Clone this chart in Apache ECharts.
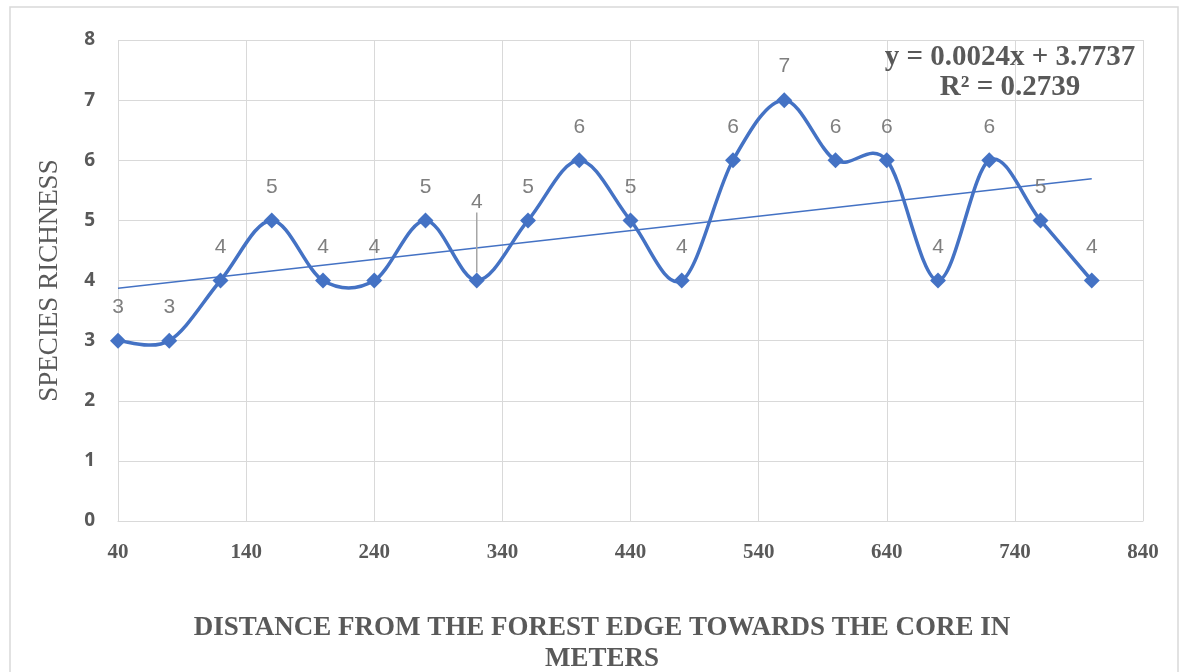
<!DOCTYPE html>
<html>
<head>
<meta charset="utf-8">
<script src="https://cdn.jsdelivr.net/npm/echarts@6/dist/echarts.min.js"></script>
<style>
  html, body { margin: 0; padding: 0; background: #ffffff; }
  #chart { width: 1180px; height: 672px; }
</style>
</head>
<body>
<div id="chart"></div>
<script>
// Sampling distances (m) along the transect and species richness observed at each
const distances = [40, 80, 120, 160, 200, 240, 280, 320, 360, 400, 440, 480, 520, 560, 600, 640, 680, 720, 760, 800];
const richness  = [3, 3, 4, 5, 4, 4, 5, 4, 5, 6, 5, 4, 6, 7, 6, 6, 4, 6, 5, 4];

// Linear trend as reported on the chart
const trendSlope = 0.0024;
const trendIntercept = 3.7737;
const trendR2 = 0.2739;

// Axis ranges / tick steps
const xRange = [40, 840];
const xStep = 100;
const yRange = [0, 8];
const yStep = 1;

// Axis titles
const xTitle = 'DISTANCE FROM THE FOREST EDGE TOWARDS THE CORE IN\nMETERS';
const yTitle = 'SPECIES RICHNESS';

// Index of the label that sits higher with a leader line
const raisedLabelIndex = 7;

const blue = '#4472C4';
const textGray = '#595959';
const gridGray = '#d9d9d9';

const points = distances.map((d, i) => {
  const item = { value: [d, richness[i]] };
  if (i === raisedLabelIndex) {
    item.labelLine = { show: true, lineStyle: { color: '#a6a6a6', width: 1.5 } };
  }
  return item;
});

// One item per curve segment (point i -> point i+1)
const segments = distances.slice(0, -1).map((d, i) => [d, richness[i], i]);

const x0 = distances[0], x1 = distances[distances.length - 1];
const trendPoints = [
  [x0, trendSlope * x0 + trendIntercept],
  [x1, trendSlope * x1 + trendIntercept]
];

// Catmull-Rom style smoothing of one segment, using pixel positions from the grid
function renderSegment(params, api) {
  const i = params.dataIndex;
  const n = distances.length;
  const at = j => {
    const k = Math.max(0, Math.min(n - 1, j));
    return api.coord([distances[k], richness[k]]);
  };
  const p0 = at(i - 1), p1 = at(i), p2 = at(i + 1), p3 = at(i + 2);
  const t = 1 / 6;
  return {
    type: 'bezierCurve',
    shape: {
      x1: p1[0], y1: p1[1],
      x2: p2[0], y2: p2[1],
      cpx1: p1[0] + (p2[0] - p0[0]) * t,
      cpy1: p1[1] + (p2[1] - p0[1]) * t,
      cpx2: p2[0] - (p3[0] - p1[0]) * t,
      cpy2: p2[1] - (p3[1] - p1[1]) * t
    },
    style: { stroke: blue, lineWidth: 3.5, fill: 'none', lineCap: 'round' },
    silent: true
  };
}

const serif = '"Liberation Serif", "DejaVu Serif", serif';

const chart = echarts.init(document.getElementById('chart'), null, { renderer: 'canvas' });

chart.setOption({
  animation: false,
  backgroundColor: '#ffffff',
  grid: { left: 118, top: 40, width: 1025, height: 481, containLabel: false, outerBoundsMode: 'none' },
  xAxis: {
    type: 'value',
    min: xRange[0], max: xRange[1], interval: xStep,
    axisLine: { show: true, lineStyle: { color: gridGray, width: 1 } },
    axisTick: { show: false },
    axisLabel: { margin: 21, fontFamily: serif, fontWeight: 'bold', fontSize: 21, color: textGray },
    splitLine: { show: true, lineStyle: { color: gridGray, width: 1 } }
  },
  yAxis: {
    type: 'value',
    min: yRange[0], max: yRange[1], interval: yStep,
    name: yTitle,
    nameLocation: 'middle',
    nameRotate: 90,
    nameGap: 55,
    nameTextStyle: { fontFamily: serif, fontSize: 27, color: textGray },
    axisLine: { show: false },
    axisTick: { show: false },
    axisLabel: {
      margin: 23,
      fontFamily: '"Open Sans", "Noto Sans", sans-serif',
      fontWeight: 'bold', fontSize: 19, color: textGray
    },
    splitLine: { show: true, lineStyle: { color: gridGray, width: 1 } }
  },
  series: [
    {
      name: 'Linear trend',
      type: 'line',
      data: trendPoints,
      symbol: 'none',
      lineStyle: { color: blue, width: 1.5 },
      silent: true,
      z: 2
    },
    {
      name: 'Species richness curve',
      type: 'custom',
      data: segments,
      encode: { x: 0, y: 1 },
      renderItem: renderSegment,
      z: 3
    },
    {
      name: 'Species richness',
      type: 'line',
      data: points,
      symbol: 'diamond',
      symbolSize: 16,
      itemStyle: { color: blue },
      lineStyle: { opacity: 0 },
      label: {
        show: true,
        position: 'top',
        distance: 15,
        formatter: p => p.value[1],
        fontFamily: '"Liberation Sans", Arial, sans-serif',
        fontSize: 21,
        color: '#7f7f7f'
      },
      labelLayout: params => params.dataIndex === raisedLabelIndex ? { dy: -45 } : {},
      z: 4
    }
  ],
  graphic: [
    {
      type: 'rect',
      shape: { x: 10, y: 7, width: 1168, height: 680 },
      style: { fill: 'none', stroke: gridGray, lineWidth: 1.5 },
      silent: true,
      z: -10
    },
    {
      type: 'text',
      style: {
        x: 602, y: 644,
        text: xTitle,
        font: 'bold 27px "Liberation Serif", serif',
        lineHeight: 31,
        fill: textGray,
        align: 'center', verticalAlign: 'middle'
      },
      z: 10
    },
    {
      type: 'text',
      style: {
        x: 1010, y: 58,
        text: 'y = ' + trendSlope + 'x + ' + trendIntercept,
        font: 'bold 29px "Liberation Serif", serif',
        fill: textGray,
        align: 'center', verticalAlign: 'middle'
      },
      z: 10
    },
    {
      type: 'text',
      style: {
        x: 1010, y: 88,
        text: 'R\u00B2 = ' + trendR2,
        font: 'bold 29px "Liberation Serif", serif',
        fill: textGray,
        align: 'center', verticalAlign: 'middle'
      },
      z: 10
    }
  ]
});
</script>
</body>
</html>
